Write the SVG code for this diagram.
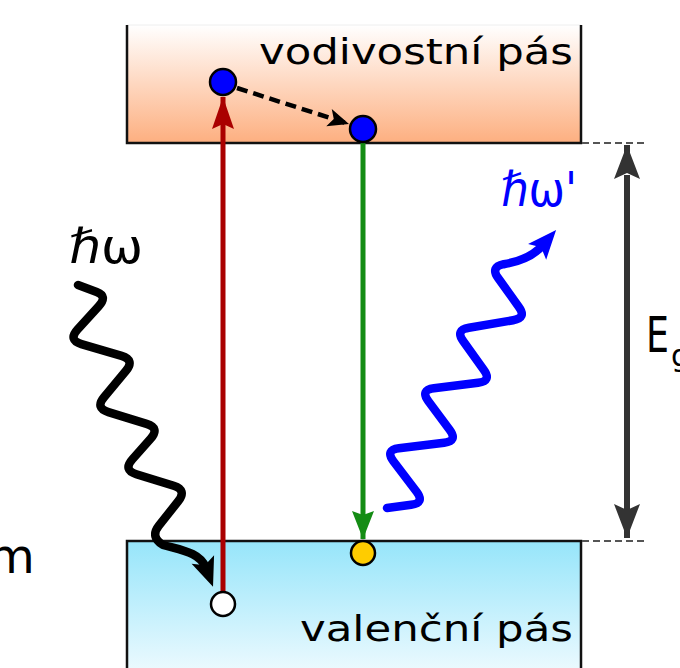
<svg xmlns="http://www.w3.org/2000/svg" width="680" height="668" viewBox="0 0 680 668">
<defs>
  <linearGradient id="gCond" x1="0" y1="0" x2="0" y2="1">
    <stop offset="0" stop-color="#ffffff"/>
    <stop offset="1" stop-color="#fdaf80"/>
  </linearGradient>
  <linearGradient id="gVal" x1="0" y1="0" x2="0" y2="1">
    <stop offset="0" stop-color="#96e5fa"/>
    <stop offset="1" stop-color="#f2fbff"/>
  </linearGradient>
  <marker id="mRed" markerUnits="userSpaceOnUse" viewBox="-36 -12 38 24" refX="0" refY="0" markerWidth="38" markerHeight="24" orient="auto">
    <path d="M0,0 L-32,-11 L-27,0 L-32,11 Z" fill="#aa0000"/>
  </marker>
  <marker id="mGreen" markerUnits="userSpaceOnUse" viewBox="-36 -12 38 24" refX="0" refY="0" markerWidth="38" markerHeight="24" orient="auto">
    <path d="M0,0 L-28,-11 L-24,0 L-28,11 Z" fill="#148c14"/>
  </marker>
  <marker id="mDash" markerUnits="userSpaceOnUse" viewBox="-24 -10 26 20" refX="0" refY="0" markerWidth="26" markerHeight="20" orient="auto">
    <path d="M0,0 L-21,-9 L-16,0 L-21,9 Z" fill="#000"/>
  </marker>
  <marker id="mGap" markerUnits="userSpaceOnUse" viewBox="-36 -14 38 28" refX="0" refY="0" markerWidth="38" markerHeight="28" orient="auto">
    <path d="M0,0 L-34,-13 L-28,0 L-34,13 Z" fill="#333"/>
  </marker>
  <marker id="mWaveK" markerUnits="userSpaceOnUse" viewBox="-12 -14 36 28" refX="0" refY="0" markerWidth="36" markerHeight="28" orient="auto">
    <path d="M20,0 L-9,-12 L-3,0 L-9,12 Z" fill="#000"/>
  </marker>
  <marker id="mWaveB" markerUnits="userSpaceOnUse" viewBox="-12 -14 36 28" refX="0" refY="0" markerWidth="36" markerHeight="28" orient="auto">
    <path d="M20,0 L-9,-12 L-3,0 L-9,12 Z" fill="#0000ff"/>
  </marker>
</defs>
<style>
  .band { stroke: none; }
  .edge { fill: none; stroke: #111; stroke-width: 2.5; }
  .lbl { font-family: "DejaVu Sans", "Liberation Sans", sans-serif; fill: #000; }
  .sym { font-family: "DejaVu Sans", "Noto Sans", sans-serif; }
  .particle { stroke: #000; stroke-width: 2.5; }
  .wave { fill: none; stroke-width: 8.5; stroke-linecap: round; stroke-linejoin: round; }
  .guide { fill: none; stroke: #555; stroke-width: 2; stroke-dasharray: 7 4; }
</style>

<g id="conduction-band">
  <rect class="band" x="127" y="25" width="454" height="118" fill="url(#gCond)"/>
  <line x1="127" y1="25" x2="581" y2="25" stroke="#eeeeee" stroke-width="1"/>
  <path class="edge" d="M127,25 V143 H581 V25"/>
  <text class="lbl" x="259" y="64" font-size="36" textLength="314" lengthAdjust="spacingAndGlyphs">vodivostní pás</text>
</g>

<g id="valence-band">
  <rect class="band" x="127" y="541" width="454" height="140" fill="url(#gVal)"/>
  <path class="edge" d="M127,680 V541 H581 V680"/>
  <text class="lbl" x="300" y="641" font-size="36" textLength="273" lengthAdjust="spacingAndGlyphs">valenční pás</text>
</g>

<g id="connectors">
  <line id="absorption" x1="223" y1="592" x2="223" y2="97" stroke="#aa0000" stroke-width="5" marker-end="url(#mRed)"/>
  <line id="recombination" x1="363" y1="143" x2="363" y2="539" stroke="#148c14" stroke-width="5" marker-end="url(#mGreen)"/>
  <line id="relaxation" x1="237" y1="88" x2="349" y2="124" stroke="#000" stroke-width="4.5" stroke-dasharray="11 6" marker-end="url(#mDash)"/>
  <line class="guide" x1="582" y1="143" x2="648" y2="143"/>
  <line class="guide" x1="582" y1="541" x2="648" y2="541"/>
  <line id="gap-arrow" x1="627" y1="170" x2="627" y2="145" stroke="#333" stroke-width="6" marker-end="url(#mGap)"/>
  <line x1="627" y1="175" x2="627" y2="538" stroke="#333" stroke-width="6" marker-end="url(#mGap)"/>
</g>

<g id="photon-in">
  <path class="wave" stroke="#000" marker-end="url(#mWaveK)" d="M78,285 L96.7,291.9 Q108,296 98.6,306.4 L77.4,329.6 Q68,340 81.4,344.1 L121.6,355.9 Q135,360 126,370.8 L104,397.2 Q95,408 108.4,412.1 L146.6,423.9 Q160,428 150.8,438.5 L132.2,459.5 Q123,470 136.3,474.2 L173.7,485.8 Q187,490 178.3,501.1 L158.7,525.9 Q150,537 163,545 C180,550 200,552 206,568"/>
  <text class="sym" x="69" y="263" font-size="48" textLength="74" lengthAdjust="spacingAndGlyphs" fill="#000">ℏω</text>
</g>

<g id="photon-out">
  <path class="wave" stroke="#0000ff" marker-end="url(#mWaveB)" d="M387,508 L411.1,504.8 Q425,503 416.6,491.8 L393.4,461.2 Q385,450 398.9,448.3 L444.1,442.7 Q458,441 449.6,429.8 L428.4,401.2 Q420,390 433.9,388.3 L478.1,382.7 Q492,381 483.7,369.7 L463.3,341.3 Q455,330 468.9,327.8 L513.1,320.2 Q527,318 518.7,306.7 L498.3,278.3 Q490,267 503.7,264.2 Q530,260 543,245"/>
  <text class="sym" x="501" y="206" font-size="48" textLength="76" lengthAdjust="spacingAndGlyphs" fill="#0000ff">ℏω'</text>
</g>

<g id="electron-excited">
  <circle class="particle" cx="223" cy="82" r="13" fill="#0000ff"/>
</g>
<g id="electron-relaxed">
  <circle class="particle" cx="363" cy="129" r="13" fill="#0000ff"/>
</g>
<g id="hole-created">
  <circle class="particle" cx="223" cy="604" r="12" fill="#ffffff"/>
</g>
<g id="hole-recombined">
  <circle class="particle" cx="363" cy="553" r="12" fill="#ffcc00"/>
</g>

<g id="gap-label">
  <text class="lbl" x="646" y="352" font-size="50" textLength="23" lengthAdjust="spacingAndGlyphs">E</text>
  <text class="lbl" x="671" y="366" font-size="30">g</text>
</g>
<g id="cut-label">
  <text class="lbl" x="-12" y="573" font-size="48">m</text>
</g>
</svg>
